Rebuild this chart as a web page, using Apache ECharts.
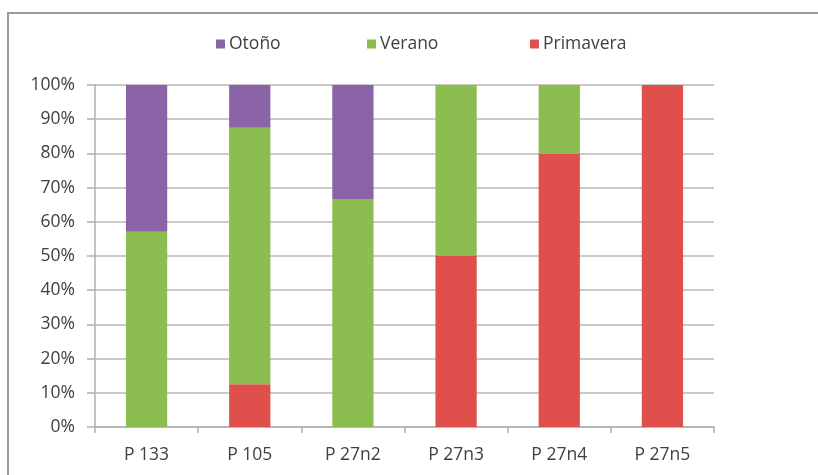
<!DOCTYPE html>
<html>
<head>
<meta charset="utf-8">
<script src="https://cdn.jsdelivr.net/npm/echarts@6/dist/echarts.min.js"></script>
<style>
  html, body { margin: 0; padding: 0; background: #fff; }
  #chart { width: 818px; height: 475px; }
</style>
</head>
<body>
<div id="chart"></div>
<script>
// Share of each season per site (percent)
const categories = ['P 133', 'P 105', 'P 27n2', 'P 27n3', 'P 27n4', 'P 27n5'];
const primavera = [0, 12.5, 0, 50, 80, 100];
const verano = [57.1, 75, 66.7, 50, 20, 0];
const otono = [42.9, 12.5, 33.3, 0, 0, 0];
const yTicks = [0, 10, 20, 30, 40, 50, 60, 70, 80, 90, 100];

const FONT = '"Open Sans", "Noto Sans", sans-serif';
const TEXT = '#404040';
const colors = { otono: '#8B64A8', verano: '#8CBD50', primavera: '#DF4F4B' };

const chart = echarts.init(document.getElementById('chart'), null, { renderer: 'canvas' });

function legendAt(name, left) {
  return {
    data: [name],
    left: left,
    top: 30,
    itemWidth: 9,
    itemHeight: 9,
    itemGap: 6,
    icon: 'rect',
    textStyle: { fontFamily: FONT, fontSize: 17.5, color: TEXT, padding: [0, 0, 0, -1] },
    selectedMode: false
  };
}

chart.setOption({
  animation: false,
  backgroundColor: '#fff',
  graphic: [{
    type: 'rect',
    shape: { x: 8, y: 13, width: 900, height: 600 },
    style: { fill: 'none', stroke: '#9a9a9a', lineWidth: 2 },
    silent: true
  }],
  legend: [
    legendAt('Otoño', 211),
    legendAt('Verano', 362),
    legendAt('Primavera', 525)
  ],
  grid: { left: 95, right: 104, top: 85, bottom: 48, containLabel: false },
  xAxis: {
    type: 'category',
    data: categories,
    axisLine: { lineStyle: { color: '#b0b0b0', width: 1.5 } },
    axisTick: { show: true, length: 6, alignWithLabel: false, lineStyle: { color: '#b0b0b0', width: 1.5 } },
    axisLabel: { fontFamily: FONT, fontSize: 17.5, color: TEXT, margin: 19 }
  },
  yAxis: {
    type: 'value',
    min: 0,
    max: 100,
    interval: 10,
    axisLine: { show: true, lineStyle: { color: '#b0b0b0', width: 1.5 } },
    axisTick: { show: true, length: 8, lineStyle: { color: '#b0b0b0', width: 1.5 } },
    splitLine: { lineStyle: { color: '#b8b8b8', width: 1.5 } },
    axisLabel: {
      fontFamily: FONT, fontSize: 17.5, color: TEXT, margin: 20,
      formatter: v => (yTicks.includes(v) ? v + '%' : '')
    }
  },
  series: [
    { name: 'Primavera', type: 'bar', stack: 'total', data: primavera, barWidth: '40%', itemStyle: { color: colors.primavera } },
    { name: 'Verano', type: 'bar', stack: 'total', data: verano, barWidth: '40%', itemStyle: { color: colors.verano } },
    { name: 'Otoño', type: 'bar', stack: 'total', data: otono, barWidth: '40%', itemStyle: { color: colors.otono } }
  ]
});
</script>
</body>
</html>
